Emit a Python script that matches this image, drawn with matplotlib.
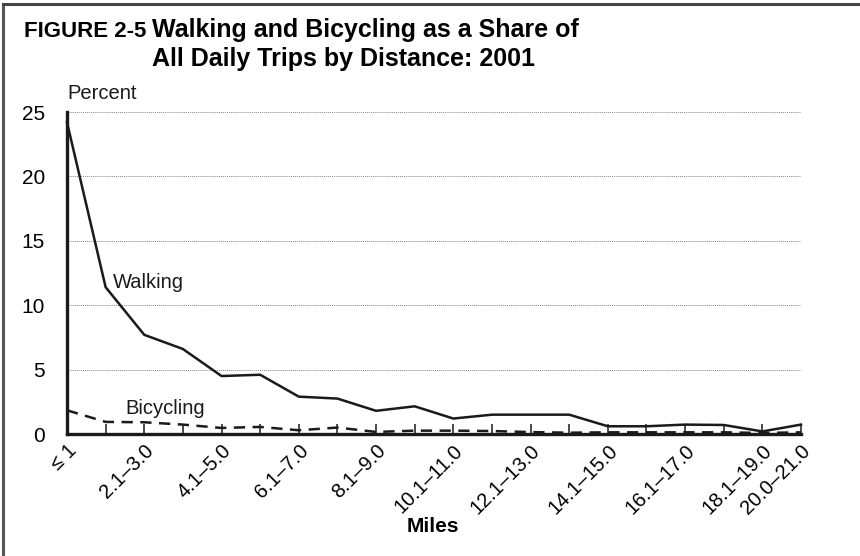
import matplotlib
matplotlib.use("Agg")
import matplotlib.pyplot as plt
from matplotlib.lines import Line2D

# Distance categories (miles)
categories = ["≤ 1", "1.1–2.0", "2.1–3.0", "3.1–4.0", "4.1–5.0", "5.1–6.0", "6.1–7.0",
              "7.1–8.0", "8.1–9.0", "9.1–10.0", "10.1–11.0", "11.1–12.0", "12.1–13.0",
              "13.1–14.0", "14.1–15.0", "15.1–16.0", "16.1–17.0", "17.1–18.0",
              "18.1–19.0", "20.0–21.0"]
shown_labels = ["≤ 1", "2.1–3.0", "4.1–5.0", "6.1–7.0", "8.1–9.0", "10.1–11.0",
                "12.1–13.0", "14.1–15.0", "16.1–17.0", "18.1–19.0", "20.0–21.0"]

# Share of all daily trips (percent)
walking = [24.2, 11.4, 7.7, 6.6, 4.5, 4.6, 2.9, 2.75, 1.8, 2.15,
           1.2, 1.5, 1.5, 1.5, 0.6, 0.6, 0.73, 0.7, 0.2, 0.73]
bicycling = [1.84, 0.94, 0.91, 0.73, 0.47, 0.55, 0.29, 0.5, 0.16, 0.26,
             0.26, 0.23, 0.15, 0.1, 0.13, 0.13, 0.13, 0.13, 0.08, 0.13]

plt.rcParams["font.family"] = ["Liberation Sans", "DejaVu Sans"]
INK = "#1a1a1a"

fig = plt.figure(figsize=(8.6, 5.56), dpi=100)
fig.patch.set_facecolor("white")

# frame lines (top and left only, like the cropped scan)
fig.add_artist(Line2D([0.003, 0.003], [0, 0.993], transform=fig.transFigure, color="#555555", lw=2.2))
fig.add_artist(Line2D([0.003, 1.0], [0.993, 0.993], transform=fig.transFigure, color="#444444", lw=2.2))

ax = fig.add_axes([67 / 860, 1 - 434 / 556, (801 - 67) / 860, (434 - 112) / 556])
x = list(range(len(categories)))

ax.plot(x, walking, color=INK, lw=1.8, clip_on=False, zorder=3)
ax.plot(x, bicycling, color=INK, lw=1.8, linestyle=(0, (4.5, 3)), clip_on=False, zorder=3)

ax.set_xlim(0, len(categories) - 1)
ax.set_ylim(0, 25)
ax.set_yticks([0, 5, 10, 15, 20, 25])
ax.yaxis.grid(True, linestyle=(0, (1, 1)), color="#888888", lw=0.7)
ax.set_axisbelow(True)

ax.set_xticks(x)
ax.set_xticklabels([c if c in shown_labels else "" for c in categories],
                   rotation=45, ha="right", va="top", rotation_mode="anchor", fontsize=14.5)
ax.tick_params(axis="x", direction="in", length=7, width=1.1, color=INK, pad=5)
ax.tick_params(axis="y", length=0, labelsize=15, pad=16)

for s in ["top", "right"]:
    ax.spines[s].set_visible(False)
for s in ["left", "bottom"]:
    ax.spines[s].set_linewidth(2.4)
    ax.spines[s].set_color(INK)

ax.text(1.2, 11.3, "Walking", fontsize=14.5, ha="left", va="baseline", color=INK)
ax.text(1.5, 1.55, "Bicycling", fontsize=14.5, ha="left", va="baseline", color=INK)
ax.text(0, 26.0, "Percent", fontsize=14.5, ha="left", va="baseline", color=INK)

fig.text(24 / 860, 1 - 37 / 556, "FIGURE 2-5", fontsize=16, fontweight="bold", ha="left", va="baseline")
fig.text(152 / 860, 1 - 37 / 556, "Walking and Bicycling as a Share of", fontsize=18,
         fontweight="bold", ha="left", va="baseline")
fig.text(152 / 860, 1 - 66 / 556, "All Daily Trips by Distance: 2001", fontsize=18,
         fontweight="bold", ha="left", va="baseline")
fig.text(433 / 860, 1 - 532 / 556, "Miles", fontsize=15, fontweight="bold", ha="center", va="baseline")

fig.savefig("out.png", dpi=100, facecolor="white")
